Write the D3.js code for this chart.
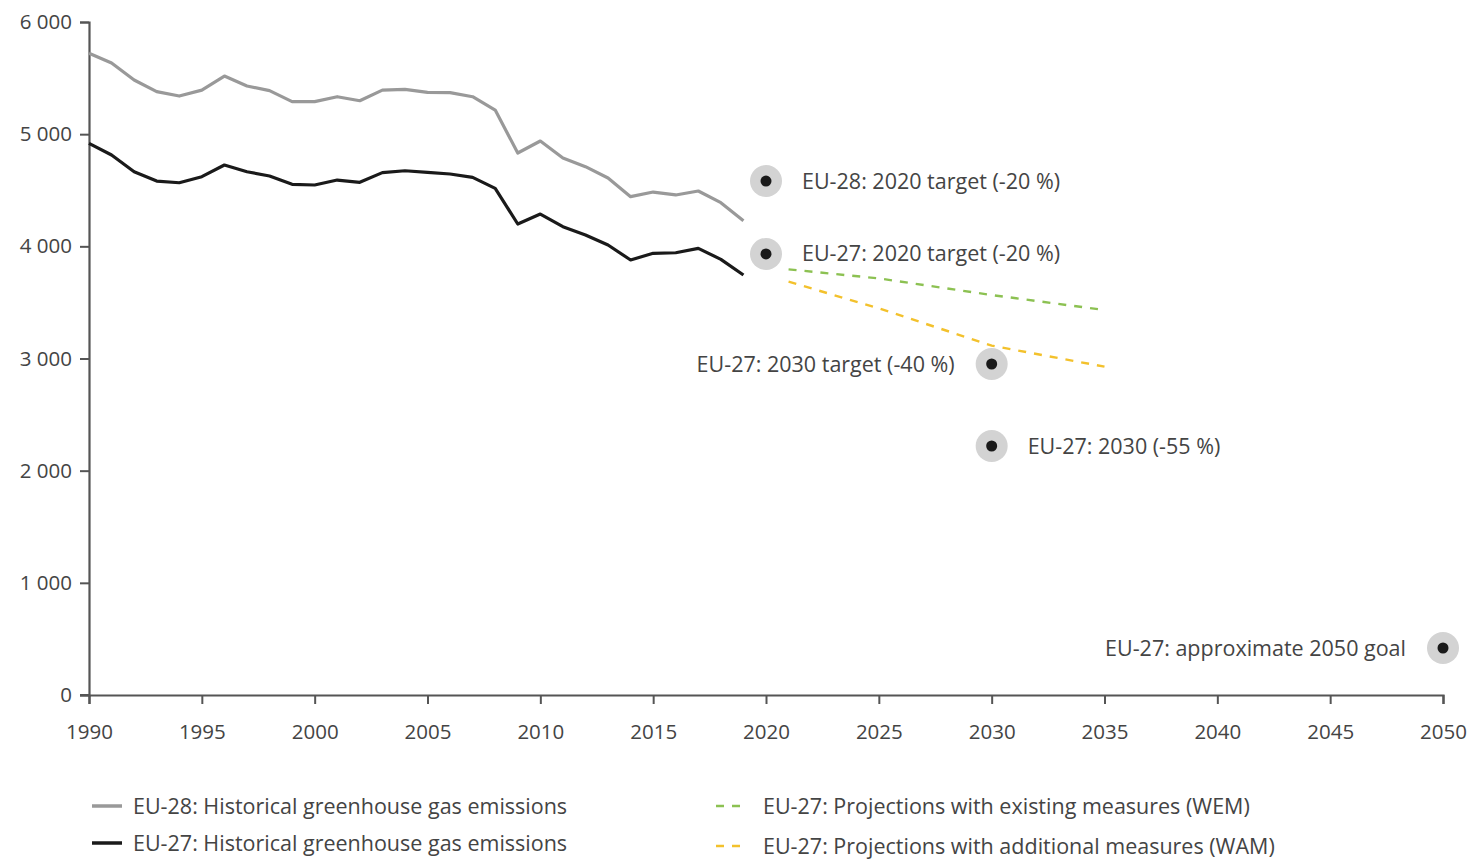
<!DOCTYPE html>
<html>
<head>
<meta charset="utf-8">
<script src="https://cdn.jsdelivr.net/npm/d3@7"></script>
<style>
  body { margin: 0; background: #fff; }
  text { font-family: "Open Sans", sans-serif; fill: #444; }
</style>
</head>
<body>
<div id="chart"></div>
<script>
// historical emissions (Mt CO2e)
const years = d3.range(1990, 2020);
const eu28 = [5721, 5634, 5483, 5379, 5340, 5393, 5518, 5429, 5388, 5290,
              5290, 5334, 5298, 5393, 5400, 5373, 5370, 5334, 5215, 4832,
              4939, 4787, 4710, 4609, 4443, 4484, 4458, 4493, 4389, 4229];
const eu27 = [4918, 4814, 4665, 4582, 4567, 4621, 4725, 4665, 4627, 4553,
              4547, 4591, 4571, 4657, 4674, 4660, 4645, 4615, 4517, 4199,
              4288, 4175, 4101, 4012, 3878, 3938, 3943, 3982, 3884, 3744];

// projections
const projYears = [2021, 2025, 2030, 2035];
const wem = [3795, 3714, 3566, 3432];
const wam = [3685, 3447, 3115, 2927];

// targets
const targetLabels = ["EU-28: 2020 target (-20 %)", "EU-27: 2020 target (-20 %)",
                      "EU-27: 2030 target (-40 %)", "EU-27: 2030 (-55 %)",
                      "EU-27: approximate 2050 goal"];
const targetYears = [2020, 2020, 2030, 2030, 2050];
const targetValues = [4582, 3932, 2951, 2220, 419];
const targetSide = ["right", "right", "left", "right", "left"];

const yTicks = [0, 1000, 2000, 3000, 4000, 5000, 6000];
const xTicks = d3.range(1990, 2051, 5);

const width = 1470, height = 859;

const svg = d3.select("#chart").append("svg")
    .attr("width", width)
    .attr("height", height);

const x = d3.scaleLinear().domain([1990, 2050]).range([89, 1443]);
const y = d3.scaleLinear().domain([0, 6000]).range([695, 22]);

const fmt = d => d3.format(",")(d).replace(",", " ");

// axes
const yAxis = svg.append("g")
    .attr("transform", `translate(${x(1990)},0)`)
    .call(d3.axisLeft(y).tickValues(yTicks).tickSize(9).tickPadding(8).tickFormat(fmt));
const xAxis = svg.append("g")
    .attr("transform", `translate(0,${y(0)})`)
    .call(d3.axisBottom(x).tickValues(xTicks).tickSize(9).tickPadding(20).tickFormat(d3.format("d")));

[yAxis, xAxis].forEach(a => {
    a.select(".domain").attr("stroke", "#555").attr("stroke-width", 2.2);
    a.selectAll(".tick line").attr("stroke", "#555").attr("stroke-width", 2);
    a.selectAll(".tick text").style("font-size", "20.5px").style("fill", "#444");
});
// x axis runs a little past the y axis on the left
svg.append("line")
    .attr("x1", x(1990) - 9).attr("x2", x(1990))
    .attr("y1", y(0)).attr("y2", y(0))
    .attr("stroke", "#555").attr("stroke-width", 2);

const line = d3.line().x(d => x(d[0])).y(d => y(d[1]));

svg.append("path")
    .datum(years.map((yr, i) => [yr, eu28[i]]))
    .attr("d", line)
    .attr("fill", "none")
    .attr("stroke", "#999")
    .attr("stroke-width", 3.2)
    .attr("stroke-linejoin", "round");

svg.append("path")
    .datum(years.map((yr, i) => [yr, eu27[i]]))
    .attr("d", line)
    .attr("fill", "none")
    .attr("stroke", "#1a1a1a")
    .attr("stroke-width", 3.2)
    .attr("stroke-linejoin", "round");

svg.append("path")
    .datum(projYears.map((yr, i) => [yr, wem[i]]))
    .attr("d", line)
    .attr("fill", "none")
    .attr("stroke", "#8cc152")
    .attr("stroke-width", 2.4)
    .attr("stroke-dasharray", "8,8");

svg.append("path")
    .datum(projYears.map((yr, i) => [yr, wam[i]]))
    .attr("d", line)
    .attr("fill", "none")
    .attr("stroke", "#f3c12c")
    .attr("stroke-width", 2.4)
    .attr("stroke-dasharray", "8,8");

// target markers
const targets = svg.selectAll(".target")
    .data(targetLabels.map((l, i) => ({label: l, year: targetYears[i], value: targetValues[i], side: targetSide[i]})))
    .enter().append("g")
    .attr("transform", d => `translate(${x(d.year)},${y(d.value)})`);

targets.append("circle").attr("r", 16).attr("fill", "#d3d3d3");
targets.append("circle").attr("r", 5.5).attr("fill", "#1a1a1a");
targets.append("text")
    .attr("x", d => d.side === "right" ? 36 : -37)
    .attr("dy", "0.35em")
    .attr("text-anchor", d => d.side === "right" ? "start" : "end")
    .style("font-size", "21.5px")
    .text(d => d.label);

// legend
const legendItems = [
    {label: "EU-28: Historical greenhouse gas emissions", color: "#999", dash: null, x: 92, y: 806},
    {label: "EU-27: Historical greenhouse gas emissions", color: "#1a1a1a", dash: null, x: 92, y: 843},
    {label: "EU-27: Projections with existing measures (WEM)", color: "#8cc152", dash: "8,8", x: 716, y: 806},
    {label: "EU-27: Projections with additional measures (WAM)", color: "#f3c12c", dash: "8,8", x: 716, y: 846}
];

const legend = svg.selectAll(".legend")
    .data(legendItems)
    .enter().append("g")
    .attr("transform", d => `translate(${d.x},${d.y})`);

legend.append("line")
    .attr("x1", 0).attr("x2", 30)
    .attr("stroke", d => d.color)
    .attr("stroke-width", d => d.dash ? 2.4 : 3.5)
    .attr("stroke-dasharray", d => d.dash);

legend.append("text")
    .attr("x", d => d.dash ? 47 : 41)
    .attr("dy", "0.35em")
    .style("font-size", "21.5px")
    .text(d => d.label);
</script>
</body>
</html>
